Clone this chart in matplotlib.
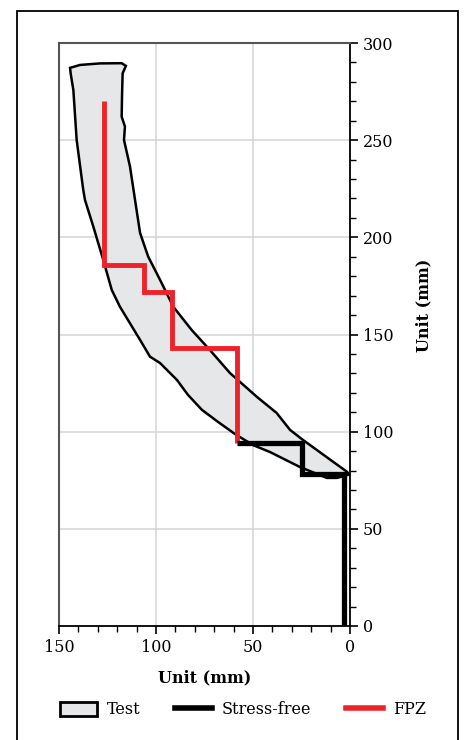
import matplotlib
matplotlib.use("Agg")
import matplotlib.pyplot as plt
from matplotlib.patches import Rectangle, Patch
from matplotlib.ticker import MultipleLocator

# Test envelope outline (x = distance in mm, y = height in mm)
test_x = [144.3, 139.2, 128.9, 117.7, 115.5, 117.2, 117.5, 117.7, 116.0, 116.5,
          113.4, 110.8, 108.2, 104.0, 97.9, 91.1, 81.6, 72.2, 61.9, 48.1,
          37.8, 30.9, 24.2, 1.5, 0.5, 6.7, 11.9, 25.8, 41.2, 50.0,
          59.3, 68.0, 76.3, 83.5, 89.2, 97.9, 103.1, 108.2, 118.6, 122.8,
          127.2, 132.3, 136.6, 137.5, 140.9, 142.6, 144.0]
test_y = [287.2, 288.7, 289.5, 289.6, 288.2, 284.4, 273.3, 262.1, 257.0, 250.1,
          236.4, 219.2, 202.2, 190.0, 178.1, 164.3, 152.3, 142.0, 130.2, 118.0,
          109.6, 100.9, 95.7, 79.3, 77.9, 76.2, 76.2, 81.8, 89.5, 93.1,
          98.8, 105.0, 111.2, 118.9, 126.6, 135.3, 138.6, 147.2, 164.3, 172.9,
          188.4, 205.5, 219.2, 224.4, 250.1, 275.8, 284.4]

# Stress-free step line
free_x = [58, 25, 25, 3, 3]
free_y = [94, 94, 78, 78, 0]

# FPZ step line
fpz_x = [127, 127, 106, 106, 92, 92, 58, 58]
fpz_y = [270, 186, 186, 172, 172, 143, 143, 94]

plt.rcParams["font.family"] = "DejaVu Serif"
plt.rcParams["font.size"] = 11.5

fig = plt.figure(figsize=(4.65, 7.4), dpi=100)
ax = fig.add_axes([59 / 465, 114 / 740, 291 / 465, 583 / 740])

ax.fill(test_x, test_y, facecolor="#e6e7e9", edgecolor="black", linewidth=1.8,
        zorder=2)
ax.plot(fpz_x, fpz_y, color="#ee2229", linewidth=3.5, solid_joinstyle="miter",
        solid_capstyle="butt", zorder=3)
ax.plot(free_x, free_y, color="black", linewidth=3.8, solid_joinstyle="miter",
        solid_capstyle="butt", zorder=4)

ax.set_xlim(150, 0)
ax.set_ylim(0, 300)
ax.xaxis.set_major_locator(MultipleLocator(50))
ax.xaxis.set_minor_locator(MultipleLocator(10))
ax.yaxis.set_major_locator(MultipleLocator(50))
ax.yaxis.set_minor_locator(MultipleLocator(10))
ax.yaxis.tick_right()
ax.yaxis.set_label_position("right")
ax.tick_params(which="major", direction="out", length=6, width=1.2, pad=3)
ax.tick_params(which="minor", direction="out", length=4, width=1.0)
ax.grid(True, which="major", color="#d4d4d4", linewidth=1.1, zorder=0)
ax.set_axisbelow(True)

for side in ["left", "top"]:
    ax.spines[side].set_color("#555555")
    ax.spines[side].set_linewidth(1.5)
for side in ["bottom", "right"]:
    ax.spines[side].set_color("black")
    ax.spines[side].set_linewidth(1.3)

ax.set_xlabel("Unit (mm)", fontweight="bold", labelpad=10)
ax.set_ylabel("Unit (mm)", fontweight="bold")
ax.yaxis.set_label_coords(1.225, 0.55)

handles = [
    Patch(facecolor="#e6e7e9", edgecolor="black", linewidth=2.0, label="Test"),
    plt.Line2D([], [], color="black", linewidth=4, label="Stress-free"),
    plt.Line2D([], [], color="#ee2229", linewidth=4, label="FPZ"),
]
fig.legend(handles=handles, loc="center", ncol=3, frameon=False,
           bbox_to_anchor=(243 / 465, 30 / 740), handlelength=2.3,
           handleheight=0.95, handletextpad=0.6, columnspacing=2.2)

# outer frame around the figure
fig.patches.append(Rectangle((17 / 465, -0.05), 441 / 465, 0.05 + 729 / 740,
                             transform=fig.transFigure, fill=False,
                             edgecolor="black", linewidth=1.3))

fig.savefig("out.png", dpi=100)
